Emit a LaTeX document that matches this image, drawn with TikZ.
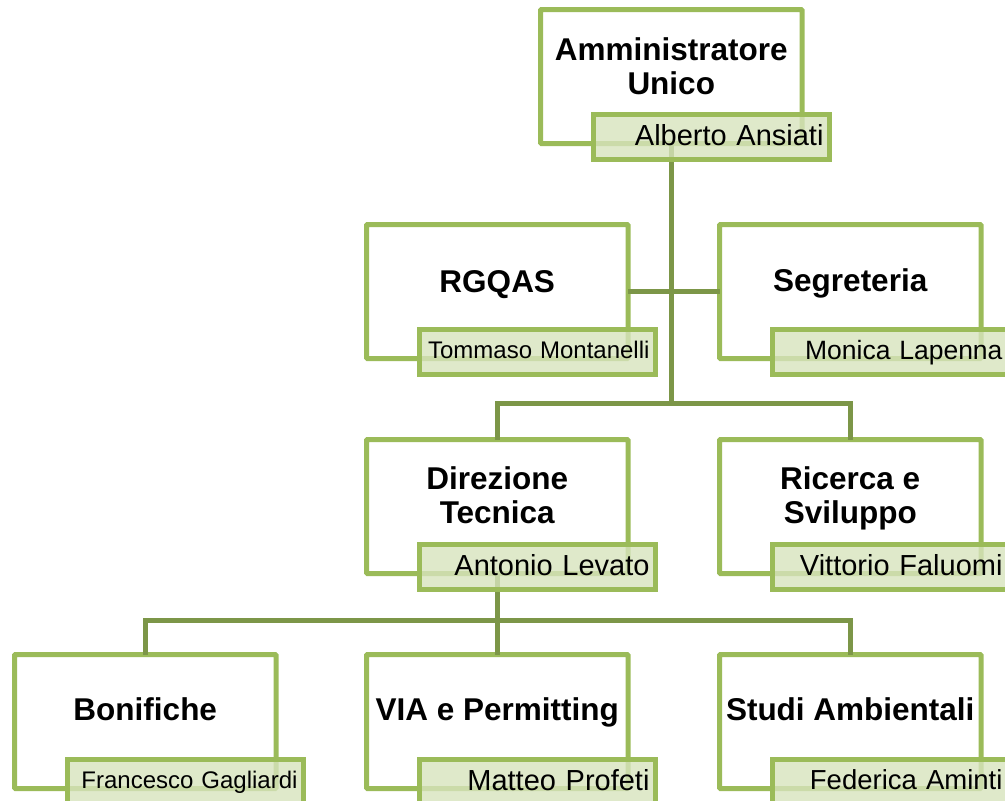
\documentclass[tikz,border=0pt]{standalone}
\usepackage{fontspec}
\setmainfont{Liberation Sans}
\usetikzlibrary{positioning}
\usetikzlibrary{calc}
\definecolor{boxgreen}{RGB}{155,187,89}
\definecolor{linkgreen}{RGB}{124,150,72}
\definecolor{namefill}{RGB}{215,228,189}
\tikzset{
  unit/.style={draw=boxgreen, line width=5pt, minimum width=261.5pt, minimum height=134pt, inner sep=0pt, outer sep=0pt, anchor=north west, rounded corners=1pt},
  namebox/.style={draw=boxgreen, line width=5pt, fill=namefill, fill opacity=0.8, text opacity=1, minimum height=45pt, text width=224pt, inner xsep=6pt, inner ysep=0pt, outer sep=0pt, text depth=4pt, align=right, anchor=north west, font=\fontsize{29}{31}\selectfont},
  title/.style={font=\bfseries\fontsize{31.5}{34}\selectfont, align=center, inner sep=0pt, text depth=0pt},
  link/.style={draw=linkgreen, line width=5pt}
}

\begin{document}
\begin{tikzpicture}[x=1pt, y=1pt]
    \useasboundingbox (0,0) rectangle (1005,-801);
    % boxes
    \node [unit] (admin) at (540.5,-9.5) {};
    \node [unit] (rgqas) at (366.5,-224.5) {};
    \node [unit] (segr) at (719.5,-224.5) {};
    \node [unit] (dir) at (366.5,-439.5) {};
    \node [unit] (rs) at (719.5,-439.5) {};
    \node [unit] (bon) at (14.5,-654.5) {};
    \node [unit] (via) at (366.5,-654.5) {};
    \node [unit] (studi) at (719.5,-654.5) {};

    \node [title] (admin_t) at ($(admin.north)+(0,-56.5)$) {Amministratore\\Unico};
    \node [title] (rgqas_t) at ($(rgqas.north)+(0,-57)$) {RGQAS};
    \node [title] (segr_t) at ($(segr.north)+(0,-55.5)$) {Segreteria};
    \node [title] (dir_t) at ($(dir.north)+(0,-55.5)$) {Direzione\\Tecnica};
    \node [title] (rs_t) at ($(rs.north)+(0,-55.5)$) {Ricerca e\\Sviluppo};
    \node [title] (bon_t) at ($(bon.north)+(0,-54.5)$) {Bonifiche};
    \node [title] (via_t) at ($(via.north)+(0,-54.5)$) {VIA e Permitting};
    \node [title] (studi_t) at ($(studi.north)+(0,-54.5)$) {Studi Ambientali};

    % connectors
    \coordinate [above=36.5pt of dir.north] (mid_l);
    \coordinate [above=36.5pt of rs.north] (mid_r);
    \coordinate [above=34.5pt of bon.north] (low_l);
    \coordinate [above=34.5pt of studi.north] (low_r);
    \draw [link] (admin.south) -- (admin.south |- mid_l);
    \draw [link] (rgqas.east) -- (segr.west);
    \draw [link] (dir.north) -- (mid_l) -- (mid_r) -- (rs.north);
    \draw [link] (bon.north) -- (low_l) -- (low_r) -- (studi.north);
    \draw [link] (dir.south) -- (via.north);

    % names
    \node [namebox] (admin_n) at ($(admin.south west)+(53,29)$) {Alberto Ansiati};
    \node [namebox, font=\fontsize{24}{26}\selectfont] (rgqas_n) at ($(rgqas.south west)+(53,29)$) {Tommaso Montanelli};
    \node [namebox, font=\fontsize{26.5}{28}\selectfont] (segr_n) at ($(segr.south west)+(53,29)$) {Monica Lapenna};
    \node [namebox] (dir_n) at ($(dir.south west)+(53,29)$) {Antonio Levato};
    \node [namebox] (rs_n) at ($(rs.south west)+(53,29)$) {Vittorio Faluomi};
    \node [namebox, font=\fontsize{24}{26}\selectfont] (bon_n) at ($(bon.south west)+(53,29)$) {Francesco Gagliardi};
    \node [namebox] (via_n) at ($(via.south west)+(53,29)$) {Matteo Profeti};
    \node [namebox, font=\fontsize{27.5}{29}\selectfont] (studi_n) at ($(studi.south west)+(53,29)$) {Federica Aminti};
\end{tikzpicture}
\end{document}
